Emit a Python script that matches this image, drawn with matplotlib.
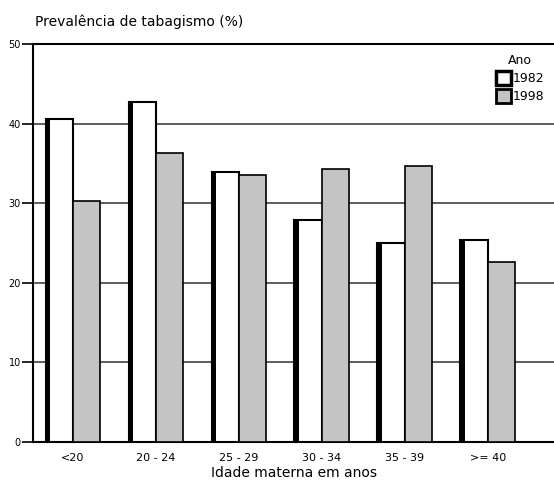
import numpy as np
import matplotlib.pyplot as plt
from matplotlib.patches import Patch

categories = ["<20", "20 - 24", "25 - 29", "30 - 34", "35 - 39", ">= 40"]
values_1982 = [40.6, 42.7, 33.9, 27.9, 25.0, 25.4]
values_1998 = [30.3, 36.3, 33.5, 34.3, 34.7, 22.6]

fig = plt.figure(figsize = (5.54, 5.0), dpi = 100)
ax = fig.add_axes([0.06, 0.116, 0.94, 0.796])

x = np.arange(len(categories))
w = 0.33
ax.bar(x - w / 2, values_1982, width = w, color = "white", edgecolor = "black", linewidth = 1.5, zorder = 3)
# dark shadow on the left side of the white bars
ax.bar(x - w, values_1982, width = 0.055, align = "edge", color = "black", linewidth = 0, zorder = 4)
ax.bar(x + w / 2, values_1998, width = w, color = "#c4c4c4", edgecolor = "black", linewidth = 1.2, zorder = 3)

ax.set_xlim(-0.48, 5.8)
ax.set_ylim(0, 50)
ax.set_yticks([0, 10, 20, 30, 40, 50])
ax.set_xticks(x)
ax.set_xticklabels(categories, fontsize = 8)
ax.tick_params(axis = "y", labelsize = 7, length = 8, width = 1.2, pad = 1)
ax.tick_params(axis = "x", length = 0, pad = 8)
ax.yaxis.grid(True, color = "#505050", linewidth = 1.3)
ax.set_axisbelow(True)
for s in ["left", "top", "bottom"]:
    ax.spines[s].set_linewidth(1.5)
ax.spines["right"].set_visible(False)

ax.set_xlabel("Idade materna em anos", fontsize = 10, labelpad = 2)
fig.text(0.063, 0.948, "Prevalência de tabagismo (%)", fontsize = 10)

handles = [Patch(facecolor = "white", edgecolor = "black", linewidth = 2.5),
           Patch(facecolor = "#c4c4c4", edgecolor = "black", linewidth = 2)]
leg = ax.legend(handles, ["1982", "1998"], title = "Ano", loc = "upper right", frameon = False,
                fontsize = 9, title_fontsize = 9, handlelength = 1.2, handleheight = 1.4,
                handletextpad = 0.15, borderaxespad = 0.4, labelspacing = 0.3)
leg.set_zorder(5)

fig.savefig("out.png", dpi = 100)
